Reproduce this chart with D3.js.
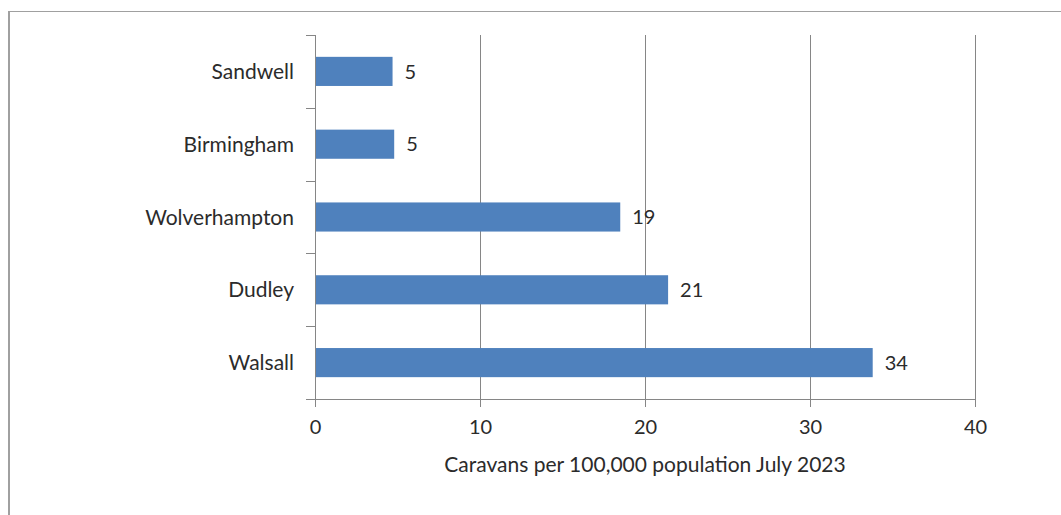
<!DOCTYPE html>
<html>
<head>
<meta charset="utf-8">
<script src="https://cdn.jsdelivr.net/npm/d3@7"></script>
<style>
  html, body { margin: 0; padding: 0; background: #fff; }
  text { font-family: Lato, "Open Sans", sans-serif; fill: #2b2b2b; }
</style>
</head>
<body>
<div id="chart"></div>
<script>
// data (labels are rounded values)
const areas = ["Sandwell", "Birmingham", "Wolverhampton", "Dudley", "Walsall"]
const caravans = [4.7, 4.8, 18.5, 21.4, 33.8]
const xTicks = [0, 10, 20, 30, 40]
const xTitle = "Caravans per 100,000 population July 2023"

const width = 1061, height = 515
const margin = { top: 35, left: 315, right: 86, bottom: 116 }

const svg = d3.select("#chart")
    .append("svg")
    .attr("width", width)
    .attr("height", height)

// outer frame (only top and left edges show)
svg.append("line")
    .attr("x1", 9).attr("x2", width).attr("y1", 11.5).attr("y2", 11.5)
    .attr("stroke", "#a0a0a0").attr("stroke-width", 1.2)
svg.append("line")
    .attr("x1", 9).attr("x2", 9).attr("y1", 11).attr("y2", height)
    .attr("stroke", "#a0a0a0").attr("stroke-width", 2)

const x = d3.scaleLinear()
    .domain([0, 40])
    .range([margin.left, width - margin.right])

const y = d3.scaleBand()
    .domain(areas)
    .range([margin.top, height - margin.bottom])
    .paddingInner(0.6)
    .paddingOuter(0.3)

const bottomY = height - margin.bottom

// vertical gridlines
svg.append("g")
    .selectAll("line")
    .data(xTicks.slice(1))
    .join("line")
    .attr("x1", d => Math.round(x(d)) + 0.5)
    .attr("x2", d => Math.round(x(d)) + 0.5)
    .attr("y1", margin.top)
    .attr("y2", bottomY)
    .attr("stroke", "#868686")

// bars
svg.append("g")
    .selectAll("rect")
    .data(areas)
    .join("rect")
    .attr("x", x(0))
    .attr("y", d => y(d))
    .attr("width", (d, i) => x(caravans[i]) - x(0))
    .attr("height", y.bandwidth())
    .attr("fill", "#4f81bd")

// value labels
svg.append("g")
    .selectAll("text")
    .data(areas)
    .join("text")
    .attr("x", (d, i) => x(caravans[i]) + 12)
    .attr("y", d => y(d) + y.bandwidth() / 2)
    .attr("dy", "0.36em")
    .style("font-size", "20px")
    .text((d, i) => Math.round(caravans[i]))

// x axis
const xAxis = svg.append("g")
    .attr("transform", `translate(0,${bottomY})`)
    .call(d3.axisBottom(x).tickValues(xTicks).tickSize(8).tickPadding(13).tickSizeOuter(0))
xAxis.select(".domain").attr("stroke", "#868686")
xAxis.selectAll(".tick line").attr("stroke", "#868686")
xAxis.selectAll(".tick text").style("font-size", "20px").attr("fill", "#2b2b2b")

// y axis: ticks between categories, Excel style
const yAxis = svg.append("g")
    .attr("transform", `translate(${margin.left},0)`)
svg.append("line")
    .attr("x1", margin.left + 0.5).attr("x2", margin.left + 0.5)
    .attr("y1", margin.top).attr("y2", bottomY)
    .attr("stroke", "#868686")
const edges = d3.range(areas.length + 1).map(i => margin.top + i * (bottomY - margin.top) / areas.length)
yAxis.selectAll("line")
    .data(edges)
    .join("line")
    .attr("x1", -9).attr("x2", 0)
    .attr("y1", d => Math.round(d) + 0.5)
    .attr("y2", d => Math.round(d) + 0.5)
    .attr("stroke", "#868686")
yAxis.selectAll("text")
    .data(areas)
    .join("text")
    .attr("x", -21)
    .attr("y", d => y(d) + y.bandwidth() / 2)
    .attr("dy", "0.36em")
    .attr("text-anchor", "end")
    .style("font-size", "21px")
    .text(d => d)

// axis title
svg.append("text")
    .attr("x", (x(0) + x(40)) / 2)
    .attr("y", bottomY + 73)
    .attr("text-anchor", "middle")
    .style("font-size", "21px")
    .text(xTitle)
</script>
</body>
</html>
